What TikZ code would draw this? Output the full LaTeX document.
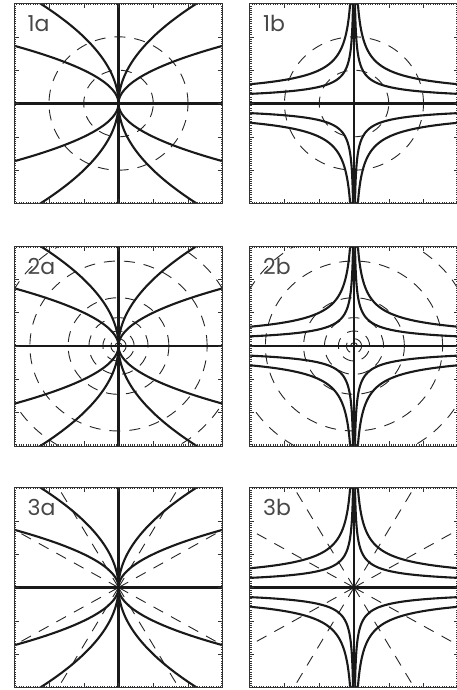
\documentclass[tikz,border=0pt]{standalone}
\usepackage{fontspec}
\setmainfont{Poppins}
\tikzset{
  frameline/.style={draw=black!80, line width=0.7pt},
  tickline/.style={draw=black!80, line width=0.45pt},
  fieldline/.style={draw=black!90, line width=2.1pt},
  axisline/.style={draw=black!90, line width=2.1pt},
  contour/.style={draw=black!85, line width=0.9pt, dash pattern=on 11pt off 9pt},
  paneltext/.style={anchor=north west, inner sep=0pt, text=black!72, font=\fontsize{22}{22}\selectfont}
}
\newcommand{\curvesA}{%
  \foreach \k in {1,0.25}{%
    \draw[fieldline] plot[domain=-3.1:3.1, samples=121, variable=\t] ({\k*\t*\t},{\t});
    \draw[fieldline] plot[domain=-3.1:3.1, samples=121, variable=\t] ({-\k*\t*\t},{\t});
  }%
}
\newcommand{\curvesB}{%
  \foreach \k in {1,0.25}{%
    \foreach \sx/\sy in {1/1,-1/1,1/-1,-1/-1}{%
      \draw[fieldline] plot[domain=-1.3:1.15, samples=100, variable=\t] ({\sx*\k*exp(-2*\t)},{\sy*exp(\t)});
    }%
  }%
}
\newcommand{\axeslines}{%
  \draw[axisline] (-3,0) -- (3,0);
  \draw[axisline] (0,-3) -- (0,3);
}
\newcommand{\contoursOne}{%
  \foreach \r in {1,2}{\draw[contour] (0,0) circle [x radius=\r, y radius=\r];}%
}
\newcommand{\contoursTwo}{%
  \foreach \r in {0.1,0.22,0.45,0.85,1.45,2.55,3.45}{\draw[contour] (0,0) circle [x radius=\r, y radius=\r];}%
}
\newcommand{\contoursThree}{%
  \foreach \a in {30,60,120,150,210,240,300,330}{\draw[contour] (0,0) -- (\a:4.4);}%
}
\newcommand{\frameticks}{%
  \draw[frameline] (-3,-3) rectangle (3,3);
  \foreach \i in {1,...,89}{%
    \pgfmathsetmacro{\t}{-3+\i/15}
    \draw[tickline] (\t,3) -- ++(0,-1.8pt);
    \draw[tickline] (\t,-3) -- ++(0,1.8pt);
    \draw[tickline] (-3,\t) -- ++(1.8pt,0);
    \draw[tickline] (3,\t) -- ++(-1.8pt,0);
  }%
  \foreach \t in {-2,-1,0,1,2}{%
    \draw[tickline] (\t,3) -- ++(0,-4.5pt);
    \draw[tickline] (\t,-3) -- ++(0,4.5pt);
    \draw[tickline] (-3,\t) -- ++(4.5pt,0);
    \draw[tickline] (3,\t) -- ++(-4.5pt,0);
  }%
}
\begin{document}
\begin{tikzpicture}[x=1pt,y=-1pt]
\useasboundingbox (0,0) rectangle (456,690);
% ---- row 1 ----
\begin{scope}[shift={(118.5,103.5)},x=34.75pt,y=33.33pt]
  \begin{scope}\clip (-3,-3) rectangle (3,3); \contoursOne \curvesA \axeslines \end{scope}
  \frameticks
  \node[paneltext] (l1a) at (-2.62,2.65) {1a};
\end{scope}
\begin{scope}[shift={(354,103.5)},x=34.75pt,y=33.33pt]
  \begin{scope}\clip (-3,-3) rectangle (3,3); \contoursOne \curvesB \axeslines \end{scope}
  \frameticks
  \node[paneltext] (l1b) at (-2.62,2.65) {1b};
\end{scope}
% ---- row 2 ----
\begin{scope}[shift={(118.5,346)},x=34.75pt,y=33.33pt]
  \begin{scope}\clip (-3,-3) rectangle (3,3); \contoursTwo \curvesA \axeslines \end{scope}
  \frameticks
  \node[paneltext] (l2a) at (-2.62,2.65) {2a};
\end{scope}
\begin{scope}[shift={(354,346)},x=34.75pt,y=33.33pt]
  \begin{scope}\clip (-3,-3) rectangle (3,3); \contoursTwo \curvesB \axeslines \end{scope}
  \frameticks
  \node[paneltext] (l2b) at (-2.62,2.65) {2b};
\end{scope}
% ---- row 3 ----
\begin{scope}[shift={(118.5,587.5)},x=34.75pt,y=33.33pt]
  \begin{scope}\clip (-3,-3) rectangle (3,3); \contoursThree \curvesA \axeslines \end{scope}
  \frameticks
  \node[paneltext] (l3a) at (-2.62,2.65) {3a};
\end{scope}
\begin{scope}[shift={(354,587.5)},x=34.75pt,y=33.33pt]
  \begin{scope}\clip (-3,-3) rectangle (3,3); \contoursThree \curvesB \axeslines \end{scope}
  \frameticks
  \node[paneltext] (l3b) at (-2.62,2.65) {3b};
\end{scope}
\end{tikzpicture}
\end{document}
